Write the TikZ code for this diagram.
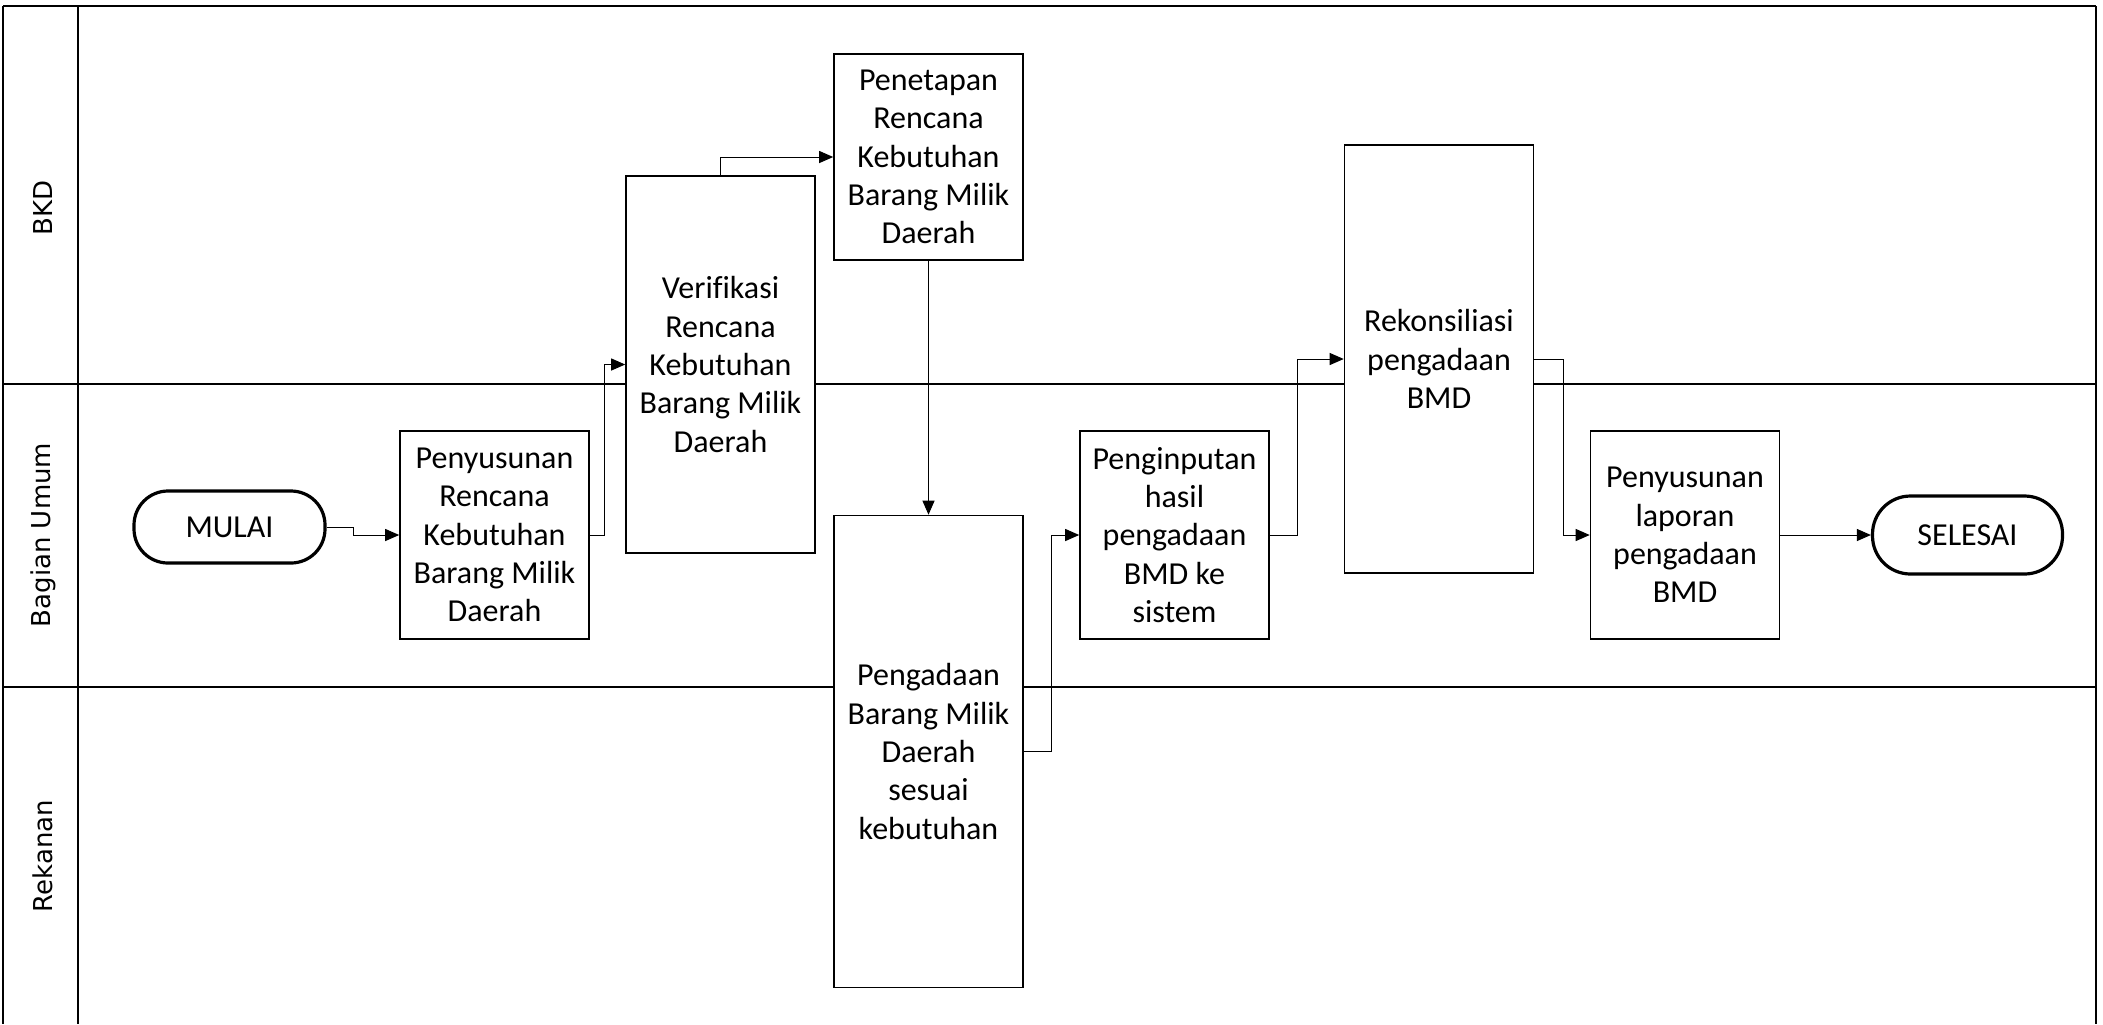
\documentclass[tikz,border=0pt]{standalone}
\usepackage{fontspec}
\setmainfont{Carlito}[Ligatures=NoCommon]
\newfontfamily\lanefont{DejaVu Sans}
\usetikzlibrary{arrows.meta}
\begin{document}
\begin{tikzpicture}[x=0.5pt,y=-0.5pt,
  lane/.style={line width=1.3pt},
  proc/.style={draw,line width=0.8pt,minimum width=94.5pt,inner sep=0pt,align=center,
    font=\fontsize{16pt}{19.2pt}\selectfont},
  term/.style={draw,line width=1.6pt,minimum width=95.5pt,inner sep=0pt,align=center,
    font=\fontsize{16pt}{19.2pt}\selectfont},
  lanelabel/.style={rotate=90,font=\lanefont\fontsize{13pt}{15pt}\selectfont,inner sep=0pt},
  conn/.style={line width=0.5pt,-{Triangle[length=7pt,width=6pt]}}]
\useasboundingbox (0,0) rectangle (2103,1024);
% swimlanes
\draw[lane] (3,6) -- (2096,6);
\draw[lane] (3,6) -- (3,1024);
\draw[lane] (2096,6) -- (2096,1024);
\draw[lane] (78,6) -- (78,1024);
\draw[lane] (3,384) -- (2096,384);
\draw[lane] (3,687) -- (2096,687);
\node[lanelabel] (lbkd) at (43,208) {BKD};
\node[lanelabel] (lbu) at (43,535) {Bagian Umum};
\node[lanelabel] (lrek) at (43,856) {Rekanan};
% nodes
\node[term,minimum height=36pt,rounded corners=17pt] (mulai) at (229.5,527) {MULAI};
\node[proc,minimum height=104pt,fill=white] (pny) at (494.5,535) {Penyusunan\\Rencana\\Kebutuhan\\Barang Milik\\Daerah};
\node[proc,minimum height=188.5pt,fill=white] (ver) at (720.5,364.5) {Verifikasi\\Rencana\\Kebutuhan\\Barang Milik\\Daerah};
\node[proc,minimum height=103pt,fill=white] (pen) at (928.5,157) {Penetapan\\Rencana\\Kebutuhan\\Barang Milik\\Daerah};
\node[proc,minimum height=236pt,fill=white] (pgd) at (928.5,751.5) {Pengadaan\\Barang Milik\\Daerah\\sesuai\\kebutuhan};
\node[proc,minimum height=104pt,fill=white] (inp) at (1174.5,535) {Penginputan\\hasil\\pengadaan\\BMD ke\\sistem};
\node[proc,minimum height=214pt,fill=white] (rek) at (1439,359) {Rekonsiliasi\\pengadaan\\BMD};
\node[proc,minimum height=104pt,fill=white] (lap) at (1685,535) {Penyusunan\\laporan\\pengadaan\\BMD};
\node[term,minimum height=39pt,minimum width=95pt,rounded corners=19pt] (sel) at (1967.5,535) {SELESAI};
% connectors
\draw[conn] (mulai.east) -- ++(27,0) |- (pny.west);
\draw[conn] (pny.east) -- ++(15,0) |- (ver.west);
\draw[conn] (ver.north) |- (pen.west);
\draw[conn] (pen.south) -- (pgd.north);
\draw[conn] (pgd.east) -- ++(28,0) |- (inp.west);
\draw[conn] (inp.east) -- ++(28,0) |- (rek.west);
\draw[conn] (rek.east) -- ++(29,0) |- (lap.west);
\draw[conn] (lap.east) -- (sel.west);
\end{tikzpicture}
\end{document}
